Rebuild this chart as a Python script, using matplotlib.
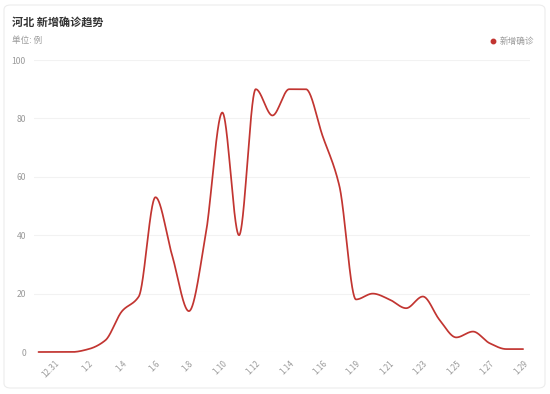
import numpy as np
import matplotlib
matplotlib.use("Agg")
import matplotlib.pyplot as plt
from matplotlib.patches import FancyBboxPatch

plt.rcParams['font.family'] = ['Noto Sans CJK SC', 'DejaVu Sans']

dates = ["12.30", "12.31", "1.1", "1.2", "1.3", "1.4", "1.5", "1.6", "1.7", "1.8",
         "1.9", "1.10", "1.11", "1.12", "1.13", "1.14", "1.15", "1.16", "1.17",
         "1.19", "1.20", "1.21", "1.22", "1.23", "1.24", "1.25", "1.26", "1.27",
         "1.28", "1.29"]
new_confirmed = [0, 0, 0, 1, 4, 14, 19, 53, 33, 14,
                 40, 82, 40, 90, 81, 90, 90, 74, 57,
                 18, 20, 18, 15, 19, 11, 5, 7, 3, 1, 1]
label_dates = ["12.31", "1.2", "1.4", "1.6", "1.8", "1.10", "1.12", "1.14",
               "1.16", "1.19", "1.21", "1.23", "1.25", "1.27", "1.29"]
y_ticks = [0, 20, 40, 60, 80, 100]
series_name = "新增确诊"
title = "河北 新增确诊趋势"
subtitle = "单位: 例"


def pchip(x, y, xs):
    x = np.asarray(x, float)
    y = np.asarray(y, float)
    h = np.diff(x)
    d = np.diff(y) / h
    n = len(x)
    m = np.zeros(n)
    for k in range(1, n - 1):
        if d[k - 1] * d[k] > 0:
            w1 = 2 * h[k] + h[k - 1]
            w2 = h[k] + 2 * h[k - 1]
            m[k] = (w1 + w2) / (w1 / d[k - 1] + w2 / d[k])
        else:
            m[k] = 0.0
    idx = np.clip(np.searchsorted(x, xs) - 1, 0, n - 2)
    t = (xs - x[idx]) / h[idx]
    h00 = 2 * t**3 - 3 * t**2 + 1
    h10 = t**3 - 2 * t**2 + t
    h01 = -2 * t**3 + 3 * t**2
    h11 = t**3 - t**2
    return h00 * y[idx] + h10 * h[idx] * m[idx] + h01 * y[idx + 1] + h11 * h[idx] * m[idx + 1]


W, H = 550, 394
fig = plt.figure(figsize=(W / 100, H / 100), dpi=100)
fig.patch.set_facecolor('white')

# card border
card = FancyBboxPatch((4 / W, 1 - 388 / H), 541 / W, 383 / H,
                      boxstyle="round,pad=0,rounding_size=0.012",
                      transform=fig.transFigure, facecolor='white',
                      edgecolor='#ececec', linewidth=0.8, zorder=-10)
fig.patches.append(card)

# axes geometry (pixels)
px0, px29 = 38.5, 523.1
step = (px29 - px0) / 29
ax_l, ax_r = 34.0, 530.0
y0, y100 = 352.0, 60.0
ax = fig.add_axes([ax_l / W, 1 - y0 / H, (ax_r - ax_l) / W, (y0 - y100) / H])
ax.set_zorder(1)
ax.set_xlim((ax_l - px0) / step, (ax_r - px0) / step)
ax.set_ylim(0, 100)
ax.set_facecolor('none')
for s in ax.spines.values():
    s.set_visible(False)

x = np.arange(len(dates))
xs = np.linspace(0, len(dates) - 1, 2000)
ys = pchip(x, new_confirmed, xs)
ax.plot(xs, ys, color='#c23531', lw=1.25, solid_capstyle='round', zorder=3,
        clip_on=False)

ax.set_yticks(y_ticks)
ax.set_yticklabels([str(v) for v in y_ticks])
ax.grid(axis='y', color='#f2f2f2', lw=0.8)
ax.set_axisbelow(True)
ax.tick_params(axis='y', length=0, pad=5.8, labelsize=6.2, labelcolor='#9a9a9a')

pos = [dates.index(d) for d in label_dates]
ax.set_xticks(pos)
ax.set_xticklabels(label_dates, rotation=45, ha='right', va='top',
                   rotation_mode='anchor')
ax.tick_params(axis='x', length=0, pad=5, labelsize=5.8, labelcolor='#9a9a9a')

# title, subtitle, legend
fig.text(12 / W, 1 - 22.5 / H, title, fontsize=8, fontweight='bold',
         color='#333333', va='center', ha='left')
fig.text(12 / W, 1 - 40 / H, subtitle, fontsize=6.2, color='#999999',
         va='center', ha='left')
fig.lines.append(plt.Line2D([493 / W], [1 - 41 / H], marker='o', markersize=3.2,
                            color='#c23531', transform=fig.transFigure))
fig.text(499.5 / W, 1 - 41 / H, series_name, fontsize=6.2, color='#999999',
         va='center', ha='left')

fig.savefig('out.png', dpi=100, facecolor='white')
